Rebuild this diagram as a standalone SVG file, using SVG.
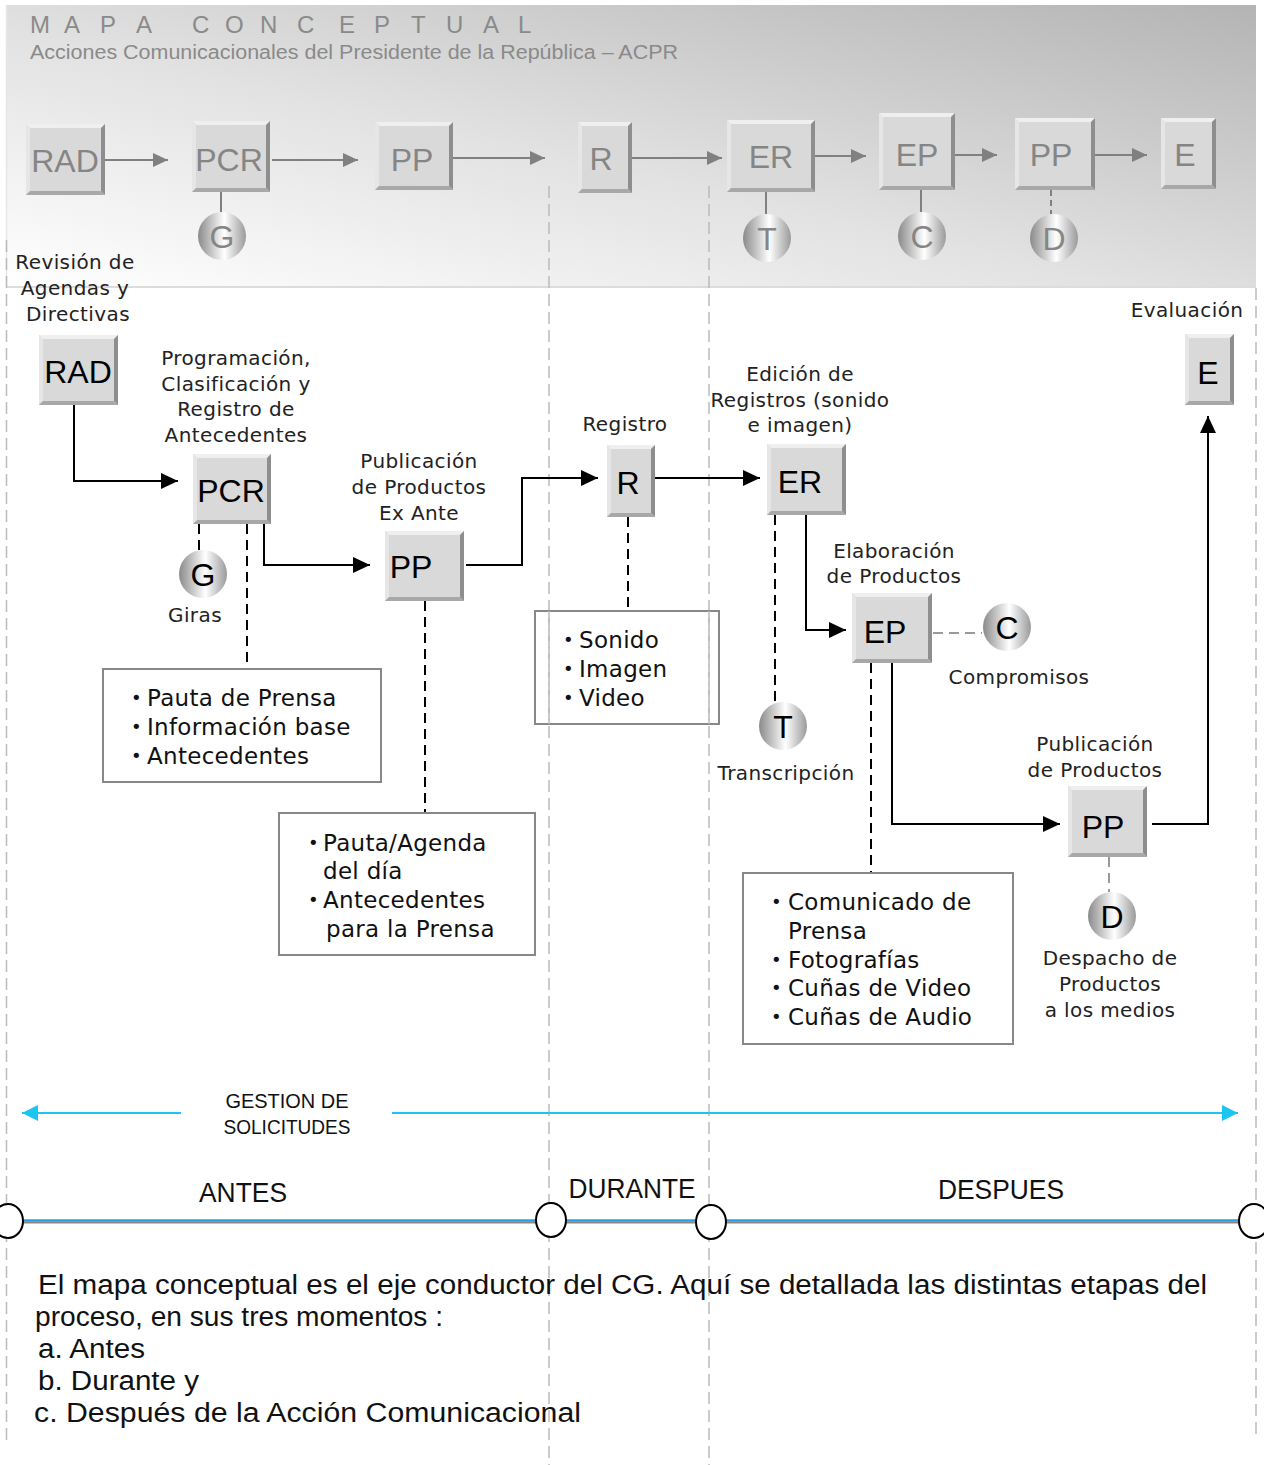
<svg xmlns="http://www.w3.org/2000/svg" width="1264" height="1465" viewBox="0 0 1264 1465">
<defs>
<linearGradient id="hdr" x1="0" y1="1" x2="1" y2="0">
<stop offset="0" stop-color="#ffffff"/>
<stop offset="0.45" stop-color="#e2e2e2"/>
<stop offset="1" stop-color="#b4b4b4"/>
</linearGradient>
<linearGradient id="ball" x1="0" y1="0" x2="1" y2="0">
<stop offset="0" stop-color="#8a8a8a"/>
<stop offset="0.55" stop-color="#ffffff"/>
<stop offset="1" stop-color="#9a9a9a"/>
</linearGradient>
<marker id="ag" markerUnits="userSpaceOnUse" markerWidth="16" markerHeight="14" refX="15" refY="7" orient="auto">
<path d="M0,0 L15,7 L0,14 Z" fill="#808080"/>
</marker>
<marker id="ab" markerUnits="userSpaceOnUse" markerWidth="18" markerHeight="16" refX="17" refY="8" orient="auto">
<path d="M0,0 L17,8 L0,16 Z" fill="#000"/>
</marker>
<marker id="ac" markerUnits="userSpaceOnUse" markerWidth="18" markerHeight="18" refX="16" refY="8" orient="auto">
<path d="M0,0 L16,8 L0,16 Z" fill="#1cc4f2"/>
</marker>
<style>
.bf{fill:#d9d9d9}
.bt{fill:#efefef}
.bl{fill:#e6e6e6}
.br{fill:#8e8e8e}
.bb{fill:#a8a8a8}
.ht{font-family:"Liberation Sans",Arial,sans-serif;font-size:32px;fill:#858585;text-anchor:middle}
.mt{font-family:"Liberation Sans",Arial,sans-serif;font-size:32px;fill:#000;text-anchor:middle}
.lab{font-family:"DejaVu Sans","Noto Sans",sans-serif;font-size:20px;letter-spacing:0.4px;fill:#222;text-anchor:middle}
.bul{font-family:"DejaVu Sans","Noto Sans",sans-serif;font-size:23px;letter-spacing:0.3px;fill:#111}
.dot{font-family:"DejaVu Sans","Noto Sans",sans-serif;font-size:18px;fill:#111}
.ball{fill:url(#ball)}
.gline{stroke:#808080;stroke-width:2;fill:none}
.bline{stroke:#000;stroke-width:2;fill:none}
.dash{stroke:#000;stroke-width:2;fill:none;stroke-dasharray:10 6}
.gdash{stroke:#999;stroke-width:2;fill:none;stroke-dasharray:10 6}
.guide{stroke:#bbbbbb;stroke-width:1.5;fill:none;stroke-dasharray:12 6}
.lbox{fill:#fff;stroke:#888;stroke-width:2}
.nar{font-family:"Liberation Sans",Arial,sans-serif;fill:#111}
</style>
</defs>

<!-- header panel -->
<rect x="6" y="5" width="1250" height="282" fill="url(#hdr)"/>
<line x1="6" y1="287" x2="1256" y2="287" stroke="#dcdcdc" stroke-width="2"/>
<line x1="6.5" y1="5" x2="6.5" y2="287" stroke="#e6e6e6" stroke-width="1.5"/>
<text font-family="Liberation Sans,Arial,sans-serif" font-size="24" fill="#8a8a8a" x="30 64 100 136 192 225 260 297 339 374 411 446 483 518" y="33">MAPACONCEPTUAL</text>
<text font-family="Liberation Sans,Arial,sans-serif" font-size="20" fill="#8a8a8a" x="30" y="59" textLength="648" lengthAdjust="spacingAndGlyphs">Acciones Comunicacionales del Presidente de la República – ACPR</text>

<!-- guides -->
<g id="guides">
<line class="guide" x1="6.5" y1="240" x2="6.5" y2="1440"/>
<line class="guide" x1="549" y1="186" x2="549" y2="1465"/>
<line class="guide" x1="709" y1="186" x2="709" y2="1465"/>
<line class="guide" x1="1256" y1="288" x2="1256" y2="1440"/>
</g>

<!-- header nodes -->
<g id="h-rad"><rect class="bf" x="26" y="124" width="79" height="71"/><path class="bt" d="M26 124H105L101 128H30Z"/><path class="bl" d="M26 124L30 128V191L26 195Z"/><path class="br" d="M105 124V195L101 191V128Z"/><path class="bb" d="M26 195L30 191H101L105 195Z"/><text class="ht" x="65" y="172">RAD</text></g>
<g id="h-pcr"><rect class="bf" x="192" y="121" width="78" height="71"/><path class="bt" d="M192 121H270L266 125H196Z"/><path class="bl" d="M192 121L196 125V188L192 192Z"/><path class="br" d="M270 121V192L266 188V125Z"/><path class="bb" d="M192 192L196 188H266L270 192Z"/><text class="ht" x="229" y="171">PCR</text></g>
<g id="h-pp1"><rect class="bf" x="375" y="122" width="78" height="68"/><path class="bt" d="M375 122H453L449 126H379Z"/><path class="bl" d="M375 122L379 126V186L375 190Z"/><path class="br" d="M453 122V190L449 186V126Z"/><path class="bb" d="M375 190L379 186H449L453 190Z"/><text class="ht" x="412" y="171">PP</text></g>
<g id="h-r"><rect class="bf" x="578" y="122" width="54" height="71"/><path class="bt" d="M578 122H632L628 126H582Z"/><path class="bl" d="M578 122L582 126V189L578 193Z"/><path class="br" d="M632 122V193L628 189V126Z"/><path class="bb" d="M578 193L582 189H628L632 193Z"/><text class="ht" x="601" y="170">R</text></g>
<g id="h-er"><rect class="bf" x="727" y="120" width="88" height="72"/><path class="bt" d="M727 120H815L811 124H731Z"/><path class="bl" d="M727 120L731 124V188L727 192Z"/><path class="br" d="M815 120V192L811 188V124Z"/><path class="bb" d="M727 192L731 188H811L815 192Z"/><text class="ht" x="771" y="168">ER</text></g>
<g id="h-ep"><rect class="bf" x="879" y="113" width="76" height="77"/><path class="bt" d="M879 113H955L951 117H883Z"/><path class="bl" d="M879 113L883 117V186L879 190Z"/><path class="br" d="M955 113V190L951 186V117Z"/><path class="bb" d="M879 190L883 186H951L955 190Z"/><text class="ht" x="917" y="166">EP</text></g>
<g id="h-pp2"><rect class="bf" x="1015" y="118" width="80" height="72"/><path class="bt" d="M1015 118H1095L1091 122H1019Z"/><path class="bl" d="M1015 118L1019 122V186L1015 190Z"/><path class="br" d="M1095 118V190L1091 186V122Z"/><path class="bb" d="M1015 190L1019 186H1091L1095 190Z"/><text class="ht" x="1051" y="166">PP</text></g>
<g id="h-e"><rect class="bf" x="1161" y="118" width="55" height="71"/><path class="bt" d="M1161 118H1216L1212 122H1165Z"/><path class="bl" d="M1161 118L1165 122V185L1161 189Z"/><path class="br" d="M1216 118V189L1212 185V122Z"/><path class="bb" d="M1161 189L1165 185H1212L1216 189Z"/><text class="ht" x="1185" y="166">E</text></g>
<g id="h-g"><ellipse class="ball" cx="222" cy="236" rx="24" ry="24"/><text class="ht" x="222" y="248">G</text></g>
<g id="h-t"><ellipse class="ball" cx="767" cy="238" rx="24" ry="24"/><text class="ht" x="767" y="250">T</text></g>
<g id="h-c"><ellipse class="ball" cx="922" cy="236" rx="24" ry="24"/><text class="ht" x="922" y="248">C</text></g>
<g id="h-d"><ellipse class="ball" cx="1054" cy="238" rx="24" ry="24"/><text class="ht" x="1054" y="250">D</text></g>

<!-- main nodes -->
<g id="rad"><rect class="bf" x="39" y="335" width="79" height="70"/><path class="bt" d="M39 335H118L114 339H43Z"/><path class="bl" d="M39 335L43 339V401L39 405Z"/><path class="br" d="M118 335V405L114 401V339Z"/><path class="bb" d="M39 405L43 401H114L118 405Z"/><text class="mt" x="78" y="383">RAD</text></g>
<g id="pcr"><rect class="bf" x="193" y="454" width="78" height="70"/><path class="bt" d="M193 454H271L267 458H197Z"/><path class="bl" d="M193 454L197 458V520L193 524Z"/><path class="br" d="M271 454V524L267 520V458Z"/><path class="bb" d="M193 524L197 520H267L271 524Z"/><text class="mt" x="231" y="502">PCR</text></g>
<g id="pp1"><rect class="bf" x="385" y="531" width="79" height="70"/><path class="bt" d="M385 531H464L460 535H389Z"/><path class="bl" d="M385 531L389 535V597L385 601Z"/><path class="br" d="M464 531V601L460 597V535Z"/><path class="bb" d="M385 601L389 597H460L464 601Z"/><text class="mt" x="411" y="578">PP</text></g>
<g id="r"><rect class="bf" x="607" y="445" width="48" height="72"/><path class="bt" d="M607 445H655L651 449H611Z"/><path class="bl" d="M607 445L611 449V513L607 517Z"/><path class="br" d="M655 445V517L651 513V449Z"/><path class="bb" d="M607 517L611 513H651L655 517Z"/><text class="mt" x="628" y="494">R</text></g>
<g id="er"><rect class="bf" x="767" y="444" width="79" height="71"/><path class="bt" d="M767 444H846L842 448H771Z"/><path class="bl" d="M767 444L771 448V511L767 515Z"/><path class="br" d="M846 444V515L842 511V448Z"/><path class="bb" d="M767 515L771 511H842L846 515Z"/><text class="mt" x="800" y="493">ER</text></g>
<g id="ep"><rect class="bf" x="852" y="593" width="80" height="70"/><path class="bt" d="M852 593H932L928 597H856Z"/><path class="bl" d="M852 593L856 597V659L852 663Z"/><path class="br" d="M932 593V663L928 659V597Z"/><path class="bb" d="M852 663L856 659H928L932 663Z"/><text class="mt" x="885" y="643">EP</text></g>
<g id="pp2"><rect class="bf" x="1068" y="786" width="79" height="71"/><path class="bt" d="M1068 786H1147L1143 790H1072Z"/><path class="bl" d="M1068 786L1072 790V853L1068 857Z"/><path class="br" d="M1147 786V857L1143 853V790Z"/><path class="bb" d="M1068 857L1072 853H1143L1147 857Z"/><text class="mt" x="1103" y="838">PP</text></g>
<g id="e"><rect class="bf" x="1185" y="334" width="49" height="71"/><path class="bt" d="M1185 334H1234L1230 338H1189Z"/><path class="bl" d="M1185 334L1189 338V401L1185 405Z"/><path class="br" d="M1234 334V405L1230 401V338Z"/><path class="bb" d="M1185 405L1189 401H1230L1234 405Z"/><text class="mt" x="1208" y="384">E</text></g>

<g id="g"><ellipse class="ball" cx="203" cy="574" rx="24" ry="24"/><text class="mt" x="203" y="586">G</text></g>
<g id="t"><ellipse class="ball" cx="783" cy="726" rx="24" ry="24"/><text class="mt" x="783" y="738">T</text></g>
<g id="c"><ellipse class="ball" cx="1007" cy="627" rx="24" ry="24"/><text class="mt" x="1007" y="639">C</text></g>
<g id="d"><ellipse class="ball" cx="1112" cy="916" rx="24" ry="24"/><text class="mt" x="1112" y="928">D</text></g>

<!-- labels -->
<g id="labels">
<text class="lab" x="75" y="269">Revisión de</text>
<text class="lab" x="75" y="295">Agendas y</text>
<text class="lab" x="78" y="321">Directivas</text>
<text class="lab" x="236" y="365">Programación,</text>
<text class="lab" x="236" y="391">Clasificación y</text>
<text class="lab" x="236" y="416">Registro de</text>
<text class="lab" x="236" y="442">Antecedentes</text>
<text class="lab" x="195" y="622">Giras</text>
<text class="lab" x="419" y="468">Publicación</text>
<text class="lab" x="419" y="494">de Productos</text>
<text class="lab" x="419" y="520">Ex Ante</text>
<text class="lab" x="625" y="431">Registro</text>
<text class="lab" x="800" y="381">Edición de</text>
<text class="lab" x="800" y="407">Registros (sonido</text>
<text class="lab" x="800" y="432">e imagen)</text>
<text class="lab" x="894" y="558">Elaboración</text>
<text class="lab" x="894" y="583">de Productos</text>
<text class="lab" x="1019" y="684">Compromisos</text>
<text class="lab" x="786" y="780">Transcripción</text>
<text class="lab" x="1095" y="751">Publicación</text>
<text class="lab" x="1095" y="777">de Productos</text>
<text class="lab" x="1187" y="317">Evaluación</text>
<text class="lab" x="1110" y="965">Despacho de</text>
<text class="lab" x="1110" y="991">Productos</text>
<text class="lab" x="1110" y="1017">a los medios</text>
</g>

<!-- connectors -->
<g id="connectors">
<line class="gline" x1="105" y1="160" x2="168" y2="160" marker-end="url(#ag)"/>
<line class="gline" x1="272" y1="160" x2="358" y2="160" marker-end="url(#ag)"/>
<line class="gline" x1="453" y1="158" x2="545" y2="158" marker-end="url(#ag)"/>
<line class="gline" x1="632" y1="158" x2="722" y2="158" marker-end="url(#ag)"/>
<line class="gline" x1="815" y1="156" x2="866" y2="156" marker-end="url(#ag)"/>
<line class="gline" x1="955" y1="155" x2="997" y2="155" marker-end="url(#ag)"/>
<line class="gline" x1="1095" y1="155" x2="1147" y2="155" marker-end="url(#ag)"/>
<line class="gline" x1="221" y1="192" x2="221" y2="212"/>
<line class="gline" x1="766" y1="192" x2="766" y2="214"/>
<line class="gline" x1="921" y1="190" x2="921" y2="212"/>
<line class="gline" x1="1051" y1="190" x2="1051" y2="214" stroke-dasharray="6 4"/>

<path class="bline" d="M74 405V481H178" marker-end="url(#ab)"/>
<path class="bline" d="M264 524V565H370" marker-end="url(#ab)"/>
<path class="bline" d="M466 565H522V478H598" marker-end="url(#ab)"/>
<path class="bline" d="M655 478H760" marker-end="url(#ab)"/>
<path class="bline" d="M806 515V630H846" marker-end="url(#ab)"/>
<path class="bline" d="M892 663V824H1060" marker-end="url(#ab)"/>
<path class="bline" d="M1152 824H1208V416" marker-end="url(#ab)"/>
<line class="dash" x1="199" y1="524" x2="199" y2="550"/>
<line class="dash" x1="247" y1="524" x2="247" y2="670"/>
<line class="dash" x1="425" y1="601" x2="425" y2="813"/>
<line class="dash" x1="628" y1="517" x2="628" y2="612"/>
<line class="dash" x1="775" y1="515" x2="775" y2="702"/>
<line class="dash" x1="871" y1="663" x2="871" y2="873"/>
<line class="gdash" x1="933" y1="633" x2="982" y2="633"/>
<line class="gdash" x1="1109" y1="857" x2="1109" y2="892"/>
</g>

<!-- list boxes -->
<g id="box1"><rect class="lbox" x="103" y="669" width="278" height="113"/>
<text class="dot" x="131" y="704">•</text><text class="bul" x="147" y="706">Pauta de Prensa</text>
<text class="dot" x="131" y="733">•</text><text class="bul" x="147" y="735">Información base</text>
<text class="dot" x="131" y="762">•</text><text class="bul" x="147" y="764">Antecedentes</text></g>
<g id="box2"><rect class="lbox" x="279" y="813" width="256" height="142"/>
<text class="dot" x="308" y="849">•</text><text class="bul" x="323" y="851">Pauta/Agenda</text>
<text class="bul" x="323" y="879">del día</text>
<text class="dot" x="308" y="906">•</text><text class="bul" x="323" y="908">Antecedentes</text>
<text class="bul" x="326" y="937">para la Prensa</text></g>
<g id="box3"><rect class="lbox" x="535" y="611" width="184" height="113" fill-opacity="0"/>
<text class="dot" x="563" y="646">•</text><text class="bul" x="579" y="648">Sonido</text>
<text class="dot" x="563" y="675">•</text><text class="bul" x="579" y="677">Imagen</text>
<text class="dot" x="563" y="704">•</text><text class="bul" x="579" y="706">Video</text></g>
<g id="box4"><rect class="lbox" x="743" y="873" width="270" height="171"/>
<text class="dot" x="771" y="908">•</text><text class="bul" x="788" y="910">Comunicado de</text>
<text class="bul" x="788" y="939">Prensa</text>
<text class="dot" x="771" y="966">•</text><text class="bul" x="788" y="968">Fotografías</text>
<text class="dot" x="771" y="994">•</text><text class="bul" x="788" y="996">Cuñas de Video</text>
<text class="dot" x="771" y="1023">•</text><text class="bul" x="788" y="1025">Cuñas de Audio</text></g>

<!-- guides over box3 -->
<line class="guide" x1="549" y1="611" x2="549" y2="724"/>
<line class="guide" x1="709" y1="611" x2="709" y2="724"/>

<!-- gestion -->
<g id="gestion">
<line x1="181" y1="1113" x2="22" y2="1113" stroke="#1cc4f2" stroke-width="2" marker-end="url(#ac)"/>
<line x1="392" y1="1113" x2="1238" y2="1113" stroke="#1cc4f2" stroke-width="2" marker-end="url(#ac)"/>
<text class="nar" font-size="20" x="287" y="1108" text-anchor="middle" textLength="123" lengthAdjust="spacingAndGlyphs">GESTION DE</text>
<text class="nar" font-size="20" x="287" y="1134" text-anchor="middle" textLength="127" lengthAdjust="spacingAndGlyphs">SOLICITUDES</text>
</g>

<!-- timeline -->
<g id="timeline">
<line x1="8" y1="1222.5" x2="1254" y2="1222.5" stroke="#888" stroke-width="2"/>
<line x1="8" y1="1220.5" x2="1254" y2="1220.5" stroke="#2a9fdc" stroke-width="2.5"/>
<ellipse cx="8" cy="1221" rx="15" ry="17" fill="#fff" stroke="#000" stroke-width="2"/>
<ellipse cx="551" cy="1220" rx="15" ry="17" fill="#fff" stroke="#000" stroke-width="2"/>
<ellipse cx="711" cy="1222" rx="15" ry="17" fill="#fff" stroke="#000" stroke-width="2"/>
<ellipse cx="1254" cy="1221" rx="15" ry="17" fill="#fff" stroke="#000" stroke-width="2"/>
<text class="nar" font-size="27" x="243" y="1202" text-anchor="middle" textLength="88" lengthAdjust="spacingAndGlyphs">ANTES</text>
<text class="nar" font-size="27" x="632" y="1198" text-anchor="middle" textLength="127" lengthAdjust="spacingAndGlyphs">DURANTE</text>
<text class="nar" font-size="27" x="1001" y="1199" text-anchor="middle" textLength="126" lengthAdjust="spacingAndGlyphs">DESPUES</text>
</g>

<!-- description -->
<g id="desc" font-family="Liberation Sans,Arial,sans-serif" font-size="27" fill="#111">
<text x="38" y="1294" textLength="1169" lengthAdjust="spacingAndGlyphs">El mapa conceptual es el eje conductor del CG. Aquí se detallada las distintas etapas del</text>
<text x="35" y="1326" textLength="408" lengthAdjust="spacingAndGlyphs">proceso, en sus tres momentos :</text>
<text x="38" y="1358" textLength="107" lengthAdjust="spacingAndGlyphs">a. Antes</text>
<text x="38" y="1390" textLength="161" lengthAdjust="spacingAndGlyphs">b. Durante y</text>
<text x="34" y="1422" textLength="547" lengthAdjust="spacingAndGlyphs">c.  Después de la Acción Comunicacional</text>
</g>
</svg>
